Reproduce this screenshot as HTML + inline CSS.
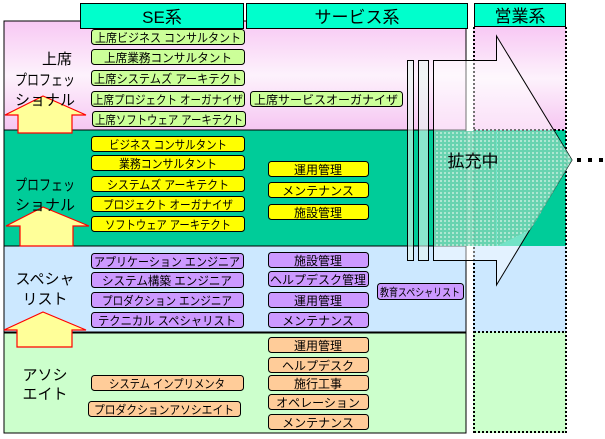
<!DOCTYPE html>
<html><head><meta charset="utf-8"><style>
html,body{margin:0;padding:0;background:#fff;}
svg text{font-family:"Liberation Sans","Noto Sans CJK JP",sans-serif;}
</style></head><body>
<svg width="605" height="434" viewBox="0 0 605 434" xmlns="http://www.w3.org/2000/svg">
<defs>
<linearGradient id="pk" x1="0" y1="0" x2="0" y2="1">
<stop offset="0" stop-color="#f8c8f4"/><stop offset="0.5" stop-color="#fdf2fc"/><stop offset="1" stop-color="#f6c6f2"/>
</linearGradient>
<pattern id="hat" width="4" height="4" patternUnits="userSpaceOnUse">
<rect width="4" height="4" fill="#66d0ac"/><rect width="2" height="2" fill="#b8e8d4"/>
</pattern>
</defs>
<rect x="4" y="21" width="462" height="109" fill="url(#pk)" stroke="#000"/>
<rect x="4" y="130" width="462" height="116" fill="#00cc99" stroke="#000"/>
<rect x="4" y="246" width="462" height="86" fill="#cce8ff" stroke="#000"/>
<rect x="4" y="333" width="462" height="100" fill="#ccffcc" stroke="#000"/>
<rect x="473" y="27" width="93" height="103" fill="url(#pk)"/>
<rect x="473" y="130" width="93" height="116" fill="#00cc99"/>
<rect x="473" y="246" width="93" height="86" fill="#cce8ff"/>
<rect x="473" y="332" width="93" height="101" fill="#ccffcc"/>
<g stroke="#000" stroke-width="2" stroke-dasharray="2,2" fill="none">
<line x1="474" y1="27" x2="474" y2="433"/><line x1="566" y1="27" x2="566" y2="433"/>
<line x1="474" y1="130" x2="566" y2="130"/><line x1="474" y1="332" x2="566" y2="332"/>
<line x1="474" y1="432" x2="566" y2="432"/>
</g>
<g stroke="#000" fill="#00ffcc">
<rect x="80.5" y="3.5" width="163" height="25"/>
<rect x="246.5" y="3.5" width="221" height="25"/>
<rect x="474.5" y="3.5" width="91" height="23"/>
</g>
<g font-size="17" text-anchor="middle" fill="#000">
<text x="162" y="23">SE系</text><text x="357" y="23">サービス系</text><text x="520" y="22">営業系</text>
</g>
<g stroke="#000" stroke-width="1">
<rect x="407.5" y="60.5" width="6" height="200" fill="#e8f6f0" fill-opacity="0.6"/>
<rect x="418.5" y="60.5" width="10" height="200" fill="#e8f6f0" fill-opacity="0.6"/>
<polygon points="433.5,60.5 496.5,60.5 496.5,36 572,160 496.5,285 496.5,260.5 433.5,260.5" fill="#fff" fill-opacity="0.45"/>
</g>
<rect x="434" y="131" width="62" height="115" fill="url(#hat)" opacity="0.85"/>
<polygon points="497,131 554,131 572,160 536,221 530,230 497,246" fill="url(#hat)" opacity="0.85"/>
<text x="473" y="167" font-size="17" text-anchor="middle">拡充中</text>
<g fill="#000"><rect x="577" y="158" width="4" height="4"/><rect x="588" y="158" width="4" height="4"/><rect x="599" y="158" width="4" height="4"/></g>
<g fill="#ffff99" stroke="#ff0000" stroke-width="1.2">
<polygon points="43,96 86,115 72,115 72,133 18,133 18,115 5,115"/>
<polygon points="43,207 89,226 73,226 73,246 20,246 20,226 6,226"/>
<polygon points="43,312 86,330 72,330 72,347 17,347 17,330 4,330"/>
</g>
<g font-size="15" text-anchor="middle" fill="#000">
<text x="57" y="64">上席</text><text x="45" y="85" textLength="60" lengthAdjust="spacingAndGlyphs">プロフェッ</text><text x="45" y="105">ショナル</text>
<text x="45" y="190" textLength="60" lengthAdjust="spacingAndGlyphs">プロフェッ</text><text x="45" y="210">ショナル</text>
<text x="45" y="284">スペシャ</text><text x="45" y="304">リスト</text>
<text x="45" y="380">アソシ</text><text x="45" y="399">エイト</text>
</g>
<g stroke="#000" stroke-width="1">
<g fill="#ccff99">
<rect x="91.5" y="29.5" width="153" height="15" rx="3"/>
<rect x="91.5" y="49.5" width="153" height="15" rx="3"/>
<rect x="91.5" y="70.5" width="153" height="15" rx="3"/>
<rect x="91.5" y="91.5" width="153" height="15" rx="3"/>
<rect x="92.5" y="111.5" width="153" height="15" rx="3"/>
<rect x="250.5" y="91.5" width="152" height="15" rx="3"/>
</g>
<g fill="#ffff00">
<rect x="91.5" y="136.5" width="153" height="15" rx="3"/>
<rect x="91.5" y="155.5" width="153" height="15" rx="3"/>
<rect x="91.5" y="176.5" width="153" height="15" rx="3"/>
<rect x="91.5" y="196.5" width="153" height="15" rx="3"/>
<rect x="91.5" y="216.5" width="153" height="15" rx="3"/>
<rect x="268.5" y="161.5" width="100" height="15" rx="3"/>
<rect x="268.5" y="182.5" width="100" height="15" rx="3"/>
<rect x="268.5" y="204.5" width="100" height="15" rx="3"/>
</g>
<g fill="#cc99ff">
<rect x="91.5" y="253.5" width="152" height="15" rx="3"/>
<rect x="91.5" y="272.5" width="152" height="15" rx="3"/>
<rect x="91.5" y="292.5" width="152" height="15" rx="3"/>
<rect x="91.5" y="312.5" width="152" height="15" rx="3"/>
<rect x="268.5" y="252.5" width="100" height="15" rx="3"/>
<rect x="268.5" y="271.5" width="100" height="15" rx="3"/>
<rect x="268.5" y="292.5" width="100" height="15" rx="3"/>
<rect x="268.5" y="312.5" width="100" height="15" rx="3"/>
<rect x="377.5" y="283.5" width="86" height="16" rx="3"/>
</g>
<g fill="#ffcc99">
<rect x="91.5" y="375.5" width="152" height="15" rx="3"/>
<rect x="88.5" y="401.5" width="152" height="15" rx="3"/>
<rect x="268.5" y="337.5" width="100" height="15" rx="3"/>
<rect x="268.5" y="357.5" width="100" height="15" rx="3"/>
<rect x="268.5" y="375.5" width="100" height="15" rx="3"/>
<rect x="268.5" y="394.5" width="100" height="15" rx="3"/>
<rect x="268.5" y="414.5" width="100" height="15" rx="3"/>
</g>
</g>
<g font-size="12" text-anchor="middle" fill="#000" lengthAdjust="spacingAndGlyphs">
<text x="168" y="42" textLength="146" lengthAdjust="spacingAndGlyphs">上席ビジネス コンサルタント</text>
<text x="168" y="62" textLength="128" lengthAdjust="spacingAndGlyphs">上席業務コンサルタント</text>
<text x="168" y="83" textLength="148" lengthAdjust="spacingAndGlyphs">上席システムズ アーキテクト</text>
<text x="168" y="104" textLength="150" lengthAdjust="spacingAndGlyphs">上席プロジェクト オーガナイザ</text>
<text x="169" y="124" textLength="148" lengthAdjust="spacingAndGlyphs">上席ソフトウェア アーキテクト</text>
<text x="326" y="104" textLength="144" lengthAdjust="spacingAndGlyphs">上席サービスオーガナイザ</text>
<text x="168" y="149" textLength="118" lengthAdjust="spacingAndGlyphs">ビジネス コンサルタント</text>
<text x="168" y="168" textLength="98" lengthAdjust="spacingAndGlyphs">業務コンサルタント</text>
<text x="168" y="189" textLength="122" lengthAdjust="spacingAndGlyphs">システムズ アーキテクト</text>
<text x="168" y="209" textLength="130" lengthAdjust="spacingAndGlyphs">プロジェクト オーガナイザ</text>
<text x="168" y="229" textLength="126" lengthAdjust="spacingAndGlyphs">ソフトウェア アーキテクト</text>
<text x="318" y="174">運用管理</text>
<text x="318" y="195">メンテナンス</text>
<text x="318" y="217">施設管理</text>
<text x="167" y="266" textLength="146" lengthAdjust="spacingAndGlyphs">アプリケーション エンジニア</text>
<text x="167" y="285" textLength="130" lengthAdjust="spacingAndGlyphs">システム構築 エンジニア</text>
<text x="167" y="305" textLength="130" lengthAdjust="spacingAndGlyphs">プロダクション エンジニア</text>
<text x="167" y="325" textLength="138" lengthAdjust="spacingAndGlyphs">テクニカル スペシャリスト</text>
<text x="318" y="265">施設管理</text>
<text x="318" y="284" textLength="96" lengthAdjust="spacingAndGlyphs">ヘルプデスク管理</text>
<text x="318" y="305">運用管理</text>
<text x="318" y="325">メンテナンス</text>
<text x="420" y="296" font-size="11" textLength="80" lengthAdjust="spacingAndGlyphs">教育スペシャリスト</text>
<text x="167" y="388" textLength="116" lengthAdjust="spacingAndGlyphs">システム インプリメンタ</text>
<text x="164" y="414" textLength="140" lengthAdjust="spacingAndGlyphs">プロダクションアソシエイト</text>
<text x="318" y="350">運用管理</text>
<text x="318" y="370">ヘルプデスク</text>
<text x="318" y="388">施行工事</text>
<text x="318" y="407">オペレーション</text>
<text x="318" y="427">メンテナンス</text>
</g>
</svg>
</body></html>
